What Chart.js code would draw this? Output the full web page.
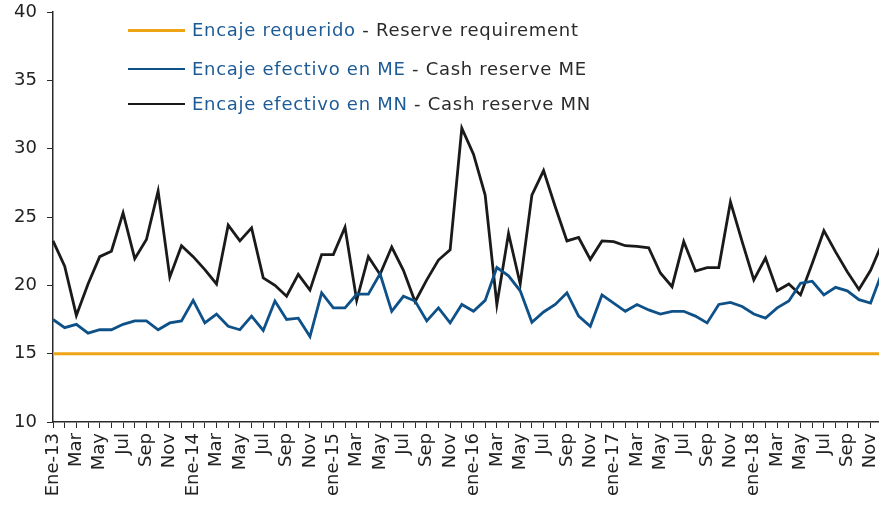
<!DOCTYPE html>
<html>
<head>
<meta charset="utf-8">
<script src="https://cdn.jsdelivr.net/npm/chart.js@4.4.1/dist/chart.umd.min.js"></script>
<style>
  html, body { margin: 0; padding: 0; background: #fff; overflow: hidden; }
  #wrap { position: relative; width: 879px; height: 506px; overflow: hidden; }
  #c { position: absolute; left: 0; top: 0; }
  .lg { position: absolute; left: 128px; font-family: "DejaVu Sans", Verdana, sans-serif; font-size: 18px; letter-spacing: 0.72px; white-space: nowrap; line-height: 20px; }
  .lg .sw { position: absolute; left: 0; width: 57px; }
  .lg .tx { position: absolute; left: 64px; top: -10px; }
  .lg .b { color: #1d5b96; }
  .lg .k { color: #2b2b2b; }
</style>
</head>
<body>
<div id="wrap">
  <canvas id="c" width="884" height="506"></canvas>
  <div class="lg" style="top:30px;"><div class="sw" style="top:-1.5px;height:3px;background:#efa415;"></div><div class="tx"><span class="b">Encaje requerido</span><span class="k"> - Reserve requirement</span></div></div>
  <div class="lg" style="top:69px;"><div class="sw" style="top:-1px;height:2px;background:#0e5189;"></div><div class="tx"><span class="b">Encaje efectivo en ME</span><span class="k"> - Cash reserve ME</span></div></div>
  <div class="lg" style="top:104px;"><div class="sw" style="top:-1px;height:2px;background:#1a1a1a;"></div><div class="tx"><span class="b">Encaje efectivo en MN</span><span class="k"> - Cash reserve MN</span></div></div>
</div>
<script>
// Months Jan-2013 .. Dec-2018
const categories = [
  "Ene-13","Feb-13","Mar-13","Abr-13","May-13","Jun-13","Jul-13","Ago-13","Sep-13","Oct-13","Nov-13","Dic-13",
  "Ene-14","Feb-14","Mar-14","Abr-14","May-14","Jun-14","Jul-14","Ago-14","Sep-14","Oct-14","Nov-14","Dic-14",
  "Ene-15","Feb-15","Mar-15","Abr-15","May-15","Jun-15","Jul-15","Ago-15","Sep-15","Oct-15","Nov-15","Dic-15",
  "Ene-16","Feb-16","Mar-16","Abr-16","May-16","Jun-16","Jul-16","Ago-16","Sep-16","Oct-16","Nov-16","Dic-16",
  "Ene-17","Feb-17","Mar-17","Abr-17","May-17","Jun-17","Jul-17","Ago-17","Sep-17","Oct-17","Nov-17","Dic-17",
  "Ene-18","Feb-18","Mar-18","Abr-18","May-18","Jun-18","Jul-18","Ago-18","Sep-18","Oct-18","Nov-18","Dic-18"
];
const tickLabels = [
  "Ene-13","","Mar","","May","","Jul","","Sep","","Nov","",
  "Ene-14","","Mar","","May","","Jul","","Sep","","Nov","",
  "ene-15","","Mar","","May","","Jul","","Sep","","Nov","",
  "ene-16","","Mar","","May","","Jul","","Sep","","Nov","",
  "ene-17","","Mar","","May","","Jul","","Sep","","Nov","",
  "ene-18","","Mar","","May","","Jul","","Sep","","Nov",""
];
const reserveRequirement = [
  15,15,15,15,15,15,15,15,15,15,15,15,
  15,15,15,15,15,15,15,15,15,15,15,15,
  15,15,15,15,15,15,15,15,15,15,15,15,
  15,15,15,15,15,15,15,15,15,15,15,15,
  15,15,15,15,15,15,15,15,15,15,15,15,
  15,15,15,15,15,15,15,15,15,15,15,15
];
const cashReserveME = [
  17.5, 16.9, 17.15, 16.5, 16.75, 16.75, 17.15, 17.4, 17.4, 16.75, 17.25, 17.4,
  18.9, 17.25, 17.9, 17.0, 16.75, 17.75, 16.7, 18.85, 17.5, 17.6, 16.25, 19.45,
  18.35, 18.35, 19.35, 19.35, 20.85, 18.1, 19.2, 18.85, 17.4, 18.35, 17.25, 18.6,
  18.1, 18.9, 21.3, 20.7, 19.6, 17.3, 18.05, 18.6, 19.45, 17.75, 17.0, 19.3,
  18.7, 18.1, 18.6, 18.2, 17.9, 18.1, 18.1, 17.75, 17.25, 18.6, 18.75, 18.45,
  17.9, 17.6, 18.35, 18.85, 20.15, 20.3, 19.3, 19.85, 19.6, 18.95, 18.7, 21.0
];
const cashReserveMN = [
  23.25, 21.4, 17.8, 20.1, 22.1, 22.5, 25.3, 21.95, 23.35, 26.9, 20.6, 22.9,
  22.1, 21.15, 20.1, 24.4, 23.25, 24.2, 20.55, 20.0, 19.2, 20.8, 19.65, 22.25,
  22.25, 24.25, 18.9, 22.1, 20.8, 22.8, 21.1, 18.8, 20.4, 21.85, 22.6, 31.5,
  29.6, 26.6, 18.6, 23.8, 20.1, 26.6, 28.4, 25.75, 23.25, 23.5, 21.9, 23.25,
  23.2, 22.9, 22.85, 22.75, 20.9, 19.9, 23.2, 21.05, 21.3, 21.3, 26.1, 23.2,
  20.4, 22.0, 19.6, 20.1, 19.3, 21.6, 24.0, 22.45, 21.0, 19.7, 21.1, 23.1
];

const tickFont = { family: "'DejaVu Sans', Verdana, sans-serif", size: 18 };
const axisColor = '#2a2a2a';

new Chart(document.getElementById('c'), {
  type: 'line',
  data: {
    labels: categories,
    datasets: [
      { label: 'Encaje requerido - Reserve requirement', data: reserveRequirement, borderColor: '#efa415', borderWidth: 3, pointRadius: 0, tension: 0 },
      { label: 'Encaje efectivo en ME - Cash reserve ME', data: cashReserveME, borderColor: '#0e5189', borderWidth: 2.8, pointRadius: 0, tension: 0 },
      { label: 'Encaje efectivo en MN - Cash reserve MN', data: cashReserveMN, borderColor: '#1a1a1a', borderWidth: 2.8, pointRadius: 0, tension: 0 }
    ]
  },
  options: {
    responsive: false,
    animation: false,
    devicePixelRatio: 1,
    layout: { padding: { left: 0, right: 1.7, top: 12, bottom: 0 } },
    plugins: { legend: { display: false }, tooltip: { enabled: false } },
    scales: {
      x: {
        type: 'category',
        offset: false,
        grid: { display: true, drawOnChartArea: false, drawTicks: true, tickLength: 6, color: axisColor, offset: false },
        border: { display: true, color: axisColor, width: 1.5 },
        ticks: {
          autoSkip: false, maxRotation: 90, minRotation: 90, padding: 5,
          font: tickFont, color: '#222',
          callback: (v, i) => tickLabels[i]
        },
        afterFit: (s) => { s.height = 84; s.paddingLeft = 0; s.paddingRight = 0; }
      },
      y: {
        min: 10, max: 40,
        grid: { display: true, drawOnChartArea: false, drawTicks: true, tickLength: 6, color: axisColor },
        border: { display: true, color: axisColor, width: 1.5 },
        ticks: { stepSize: 5, padding: 10, font: tickFont, color: '#222' },
        afterFit: (s) => { s.width = 53; s.paddingTop = 0; s.paddingBottom = 0; }
      }
    }
  }
});
</script>
</body>
</html>
